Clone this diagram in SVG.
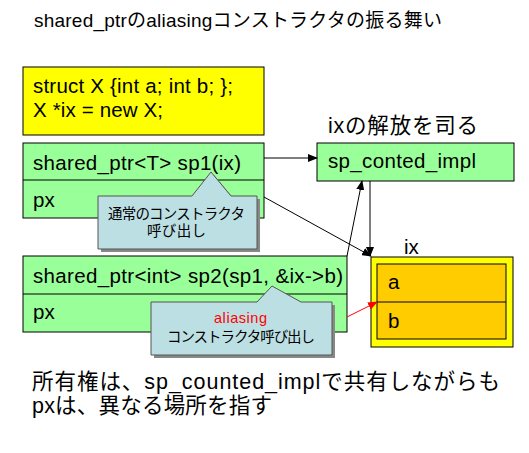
<svg xmlns="http://www.w3.org/2000/svg" width="529" height="453" viewBox="0 0 529 453">
<style>
text{font-family:"Liberation Sans","Noto Sans CJK JP",sans-serif;fill:#000}
.t20{font-size:20.5px}
.t14{font-size:14.5px}
.box{stroke:#000;stroke-width:1}
.green{fill:#99FF99}
.call{fill:#BCDFE3;stroke:#555;stroke-width:1}
.shadow{fill:#888}
.conn{stroke:#000;stroke-width:1;fill:none}
</style>
<defs>
<marker id="ah" markerWidth="10" markerHeight="8" refX="9" refY="4" orient="auto" markerUnits="userSpaceOnUse">
<path d="M0,0 L10,4 L0,8 Z" fill="#000"/>
</marker>
<marker id="ahr" markerWidth="10" markerHeight="8" refX="9" refY="4" orient="auto" markerUnits="userSpaceOnUse">
<path d="M0,0 L10,4 L0,8 Z" fill="#f00"/>
</marker>
</defs>
<rect width="529" height="453" fill="#fff"/>
<text x="34" y="27" style="font-size:19px" textLength="408">shared_ptrのaliasingコンストラクタの振る舞い</text>

<g id="structX">
<rect x="23" y="67" width="241" height="68" fill="#FFFF00" class="box"/>
<text x="33" y="93" class="t20" textLength="200">struct X {int a; int b; };</text>
<text x="33" y="117" class="t20" textLength="130">X *ix = new X;</text>
</g>

<g id="sp1">
<rect x="23" y="143" width="241" height="75" class="box green"/>
<line x1="23" y1="180" x2="264" y2="180" class="box"/>
<text x="33" y="170" class="t20" textLength="208">shared_ptr&lt;T&gt; sp1(ix)</text>
<text x="33" y="207" class="t20">px</text>
</g>

<g id="sp2">
<rect x="23" y="256" width="324" height="76" class="box green"/>
<line x1="23" y1="294" x2="347" y2="294" class="box"/>
<text x="33" y="283" class="t20" textLength="310">shared_ptr&lt;int&gt; sp2(sp1, &amp;ix-&gt;b)</text>
<text x="33" y="319" class="t20">px</text>
</g>

<g id="impl">
<text x="328" y="133" style="font-size:21.5px" textLength="150">ixの解放を司る</text>
<rect x="317" y="143" width="197" height="38" class="box green"/>
<text x="328" y="168" class="t20" textLength="148">sp_conted_impl</text>
</g>

<g id="ix">
<text x="404" y="254" class="t20">ix</text>
<rect x="371" y="257" width="142" height="90" fill="#FFFF00" class="box"/>
<rect x="377" y="264" width="129" height="75" fill="#FFCC00" class="box"/>
<line x1="377" y1="302" x2="506" y2="302" class="box"/>
<text x="388" y="289" class="t20">a</text>
<text x="388" y="328" class="t20">b</text>
</g>

<g id="connectors">
<line x1="264" y1="158" x2="317" y2="158" class="conn" marker-end="url(#ah)"/>
<line x1="264" y1="197" x2="371" y2="256" class="conn" marker-end="url(#ah)"/>
<line x1="347" y1="256" x2="362" y2="181" class="conn" marker-end="url(#ah)"/>
<line x1="370" y1="181" x2="370" y2="256" class="conn" marker-end="url(#ah)"/>
<line x1="347" y1="317" x2="377" y2="302" stroke="#f00" stroke-width="1" marker-end="url(#ahr)"/>
</g>

<g id="callout1">
<path d="M101,199 L195,199 L214,175 L234,199 L260,199 L260,252 L101,252 Z" class="shadow"/>
<path d="M98,196 L192,196 L211,172 L231,196 L257,196 L257,249 L98,249 Z" class="call"/>
<text x="108" y="219" class="t14" textLength="137">通常のコンストラクタ</text>
<text x="147" y="236" class="t14" textLength="59">呼び出し</text>
</g>

<g id="callout2">
<path d="M154,305 L260,305 L275,289 L304,305 L335,305 L335,358 L154,358 Z" class="shadow"/>
<path d="M151,302 L257,302 L272,286 L301,302 L332,302 L332,355 L151,355 Z" class="call"/>
<text x="214" y="323" class="t14" style="fill:#f00" textLength="53">aliasing</text>
<text x="167" y="342" class="t14" textLength="148">コンストラクタ呼び出し</text>
</g>

<g id="note">
<text x="32" y="389" style="font-size:21.5px" textLength="468">所有権は、sp_counted_implで共有しながらも</text>
<text x="32" y="413" style="font-size:21.5px" textLength="240">pxは、異なる場所を指す</text>
</g>
</svg>
